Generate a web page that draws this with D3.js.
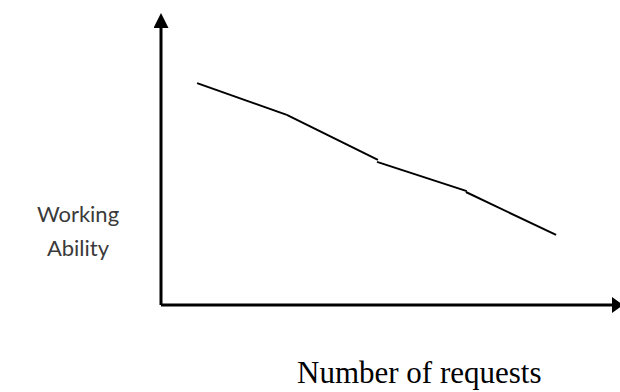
<!DOCTYPE html>
<html><head><meta charset="utf-8">
<script src="https://cdn.jsdelivr.net/npm/d3@7"></script>
<style>html,body{margin:0;padding:0;background:#fff;}svg{display:block;}</style>
</head><body>
<svg id="chart" width="620" height="392"></svg>
<script>
// Data (abstract units, 0-100 on both axes)
const segStartX = [8.0, 27.9, 47.9, 67.6];
const segStartY = [76.0, 65.1, 49.0, 38.7];
const segEndX   = [27.9, 48.1, 67.8, 87.6];
const segEndY   = [65.1, 49.7, 39.0, 24.0];
const xLabel = "Number of requests";
const yLabelLines = ["Working", "Ability"];

const svg = d3.select("#chart");
const x = d3.scaleLinear().domain([0, 100]).range([161, 612]);
const y = d3.scaleLinear().domain([0, 100]).range([305, 13]);

const defs = svg.append("defs");
defs.append("marker").attr("id","arrow").attr("viewBox","0 0 10 10")
  .attr("refX",0).attr("refY",5).attr("markerUnits","userSpaceOnUse")
  .attr("markerWidth",11).attr("markerHeight",16).attr("orient","auto")
  .attr("preserveAspectRatio","none")
  .append("path").attr("d","M0,0 L10,5 L0,10 Z").attr("fill","#000");
defs.append("marker").attr("id","arrowUp").attr("viewBox","0 0 10 10")
  .attr("refX",0).attr("refY",5).attr("markerUnits","userSpaceOnUse")
  .attr("markerWidth",15).attr("markerHeight",15).attr("orient","auto")
  .attr("preserveAspectRatio","none")
  .append("path").attr("d","M0,0 L10,5 L0,10 Z").attr("fill","#000");

// axes via d3 axis generators (no ticks)
const gx = svg.append("g").attr("transform", `translate(0,${y(0)})`)
  .call(d3.axisBottom(x).ticks(0).tickSizeOuter(0));
const gy = svg.append("g").attr("transform", `translate(${x(0)},0)`)
  .call(d3.axisLeft(y).ticks(0).tickSizeOuter(0));
gx.selectAll("text").remove(); gy.selectAll("text").remove();
gx.select(".domain").attr("stroke","#000").attr("stroke-width",3)
  .attr("d", `M${x(0)},0H${x(100)}`).attr("marker-end","url(#arrow)");
gy.select(".domain").attr("stroke","#000").attr("stroke-width",3)
  .attr("d", `M0,${y(0)}V${y(100) + 15}`).attr("marker-end","url(#arrowUp)");

// line segments
const segs = segStartX.map((d,i)=>({x0:d,y0:segStartY[i],x1:segEndX[i],y1:segEndY[i]}));
svg.append("g").selectAll("line").data(segs).join("line")
  .attr("x1",d=>x(d.x0)).attr("y1",d=>y(d.y0))
  .attr("x2",d=>x(d.x1)).attr("y2",d=>y(d.y1))
  .attr("stroke","#000").attr("stroke-width",2);

// labels
svg.append("text").attr("x",297).attr("y",383)
  .attr("font-family","'Liberation Serif', 'Times New Roman', serif")
  .attr("font-size",31).attr("fill","#000").text(xLabel);
const yl = svg.append("text").attr("font-family","Lato, 'Open Sans', sans-serif")
  .attr("font-size",22).attr("fill","#3a3a3a").attr("text-anchor","middle");
yl.selectAll("tspan").data(yLabelLines).join("tspan")
  .attr("x",78).attr("y",(d,i)=>222+i*34).text(d=>d);
</script>
</body></html>
